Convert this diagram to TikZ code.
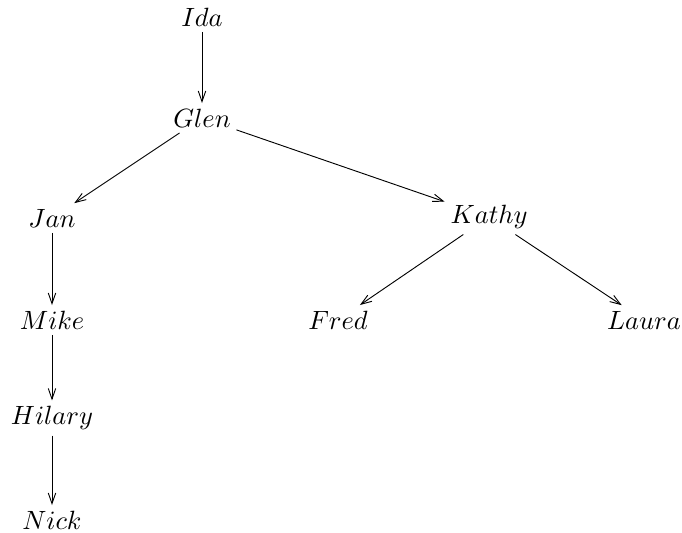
\documentclass[tikz,border=0pt]{standalone}
\usetikzlibrary{arrows.meta}
\begin{document}
\begin{tikzpicture}[x=0.01331cm,y=-0.01331cm,person/.style={inner sep=2pt},edge/.style={-{Straight Barb[length=4pt,width=2.8pt]},line width=0.35pt}]
 \useasboundingbox (0,0) rectangle (682,533);
 \node[person] (ida) at (202,17) {$Ida$};
 \node[person] (glen) at (202,118) {$Glen$};
 \node[person] (jan) at (52,218) {$Jan$};
 \node[person] (kathy) at (489,217) {$Kathy$};
 \node[person] (mike) at (52,320) {$Mike$};
 \node[person] (fred) at (338,320) {$Fred$};
 \node[person] (laura) at (644,320) {$Laura$};
 \node[person] (hilary) at (52,418) {$Hilary$};
 \node[person] (nick) at (52,520) {$Nick$};
 \draw[edge] (ida) -- (glen);
 \draw[edge] (glen) -- (jan);
 \draw[edge] (glen) -- (kathy);
 \draw[edge] (jan) -- (mike);
 \draw[edge] (mike) -- (hilary);
 \draw[edge] (hilary) -- (nick);
 \draw[edge] (kathy) -- (fred);
 \draw[edge] (kathy) -- (laura);
\end{tikzpicture}
\end{document}
